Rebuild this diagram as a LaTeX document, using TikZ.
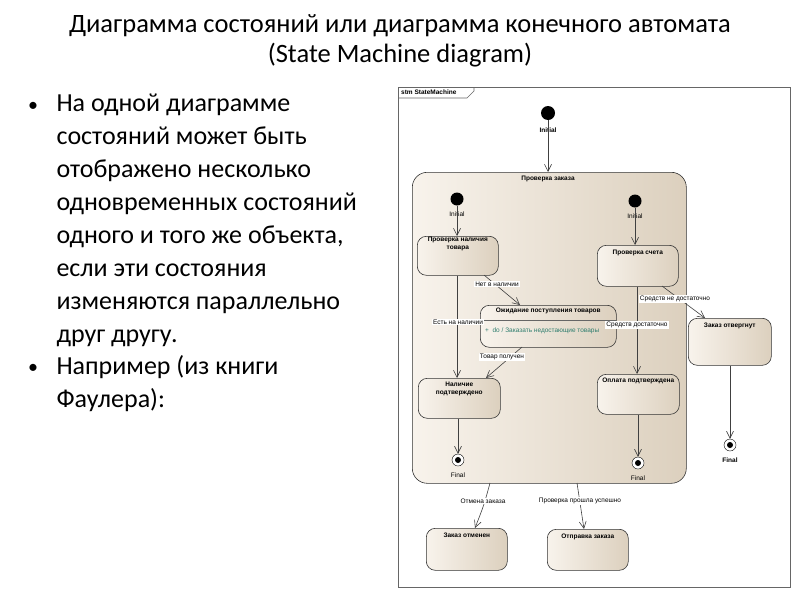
\documentclass[tikz,border=0pt]{standalone}
\usepackage{fontspec}
\setmainfont{Carlito}
\newfontfamily\uml{Liberation Sans}
\usetikzlibrary{arrows.meta}
\definecolor{beigeA}{HTML}{F8F3EC}
\definecolor{beigeB}{HTML}{DCD0BE}
\definecolor{teal}{HTML}{2E7D6E}
\tikzset{x=1pt,y=-1pt,
 st/.style={draw=black!80,line width=0.6pt,rounded corners=9pt,left color=beigeA,right color=beigeB},
 lbl/.style={font=\uml\fontsize{6.5}{7}\selectfont,inner sep=1pt},
 blbl/.style={font=\uml\bfseries\fontsize{6.5}{7.5}\selectfont,align=center,inner sep=1pt},
 tr/.style={draw=black!75,line width=0.6pt,-{Straight Barb[length=7pt,width=7pt]}},
 ini/.style={circle,fill=black,inner sep=0pt},
 fin/.style={circle,draw=black,fill=white,minimum size=12pt,inner sep=0pt},
 dot/.style={circle,fill=black,minimum size=6pt,inner sep=0pt},
 edl/.style={lbl,fill=white}}
\begin{document}
\begin{tikzpicture}
\useasboundingbox (0,0) rectangle (800,600);
\node[font=\fontsize{26.5}{30}\selectfont,align=center] (title) at (400,41) {Диаграмма состояний или диаграмма конечного автомата\\(State Machine diagram)};
\node[font=\fontsize{26}{33}\selectfont,align=left,anchor=north west] (b1) at (53,90) {На одной диаграмме\\состояний может быть\\отображено несколько\\одновременных состояний\\одного и того же объекта,\\если эти состояния\\изменяются параллельно\\друг другу.};
\node[font=\fontsize{26}{33}\selectfont,align=left,anchor=north west] (b2) at (53,352) {Например (из книги\\Фаулера):};
\node[font=\fontsize{20}{20}\selectfont] (d1) at (33,107) {•};
\node[font=\fontsize{20}{20}\selectfont] (d2) at (33,369) {•};
% frame
\draw[black!60,line width=0.7pt] (398,87) rectangle (790,587);
\draw[black!60,line width=0.6pt] (398,98) -- (467,98) -- (474,91) -- (474,87);
\node[blbl,anchor=west] (tab) at (400,92.5) {stm StateMachine};
% composite
\node[st,rounded corners=15pt,minimum width=274pt,minimum height=311pt,anchor=north west] (comp) at (412,172) {};
\node[blbl] (ctitle) at (548,179) {Проверка заказа};
\node[ini,minimum size=14pt] (i0) at (548,113) {};
\node[blbl] (i0l) at (548,130) {Initial};
\node[ini,minimum size=13pt] (i1) at (457,199) {};
\node[lbl] (i1l) at (457,214) {Initial};
\node[ini,minimum size=13pt] (i2) at (635,201) {};
\node[lbl] (i2l) at (635,216) {Initial};
% states
\node[st,minimum width=81pt,minimum height=39pt,anchor=north west] (pn) at (417,236) {};
\node[blbl,anchor=north] at (pn.north) {Проверка наличия\\товара};
\node[st,minimum width=81pt,minimum height=41pt,anchor=north west] (ps) at (597,245) {};
\node[blbl,anchor=north] at ([yshift=-4pt]ps.north) {Проверка счета};
\node[st,minimum width=136pt,minimum height=42pt,anchor=north west] (ow) at (480,305) {};
\node[blbl,anchor=north] at ([yshift=-2pt]ow.north) {Ожидание поступления товаров};
\draw[black!60] (480,320) -- (616,320);
\node[lbl,text=teal,anchor=west] at (484,331) {+\ \ do / Заказать недостающие товары};
\node[st,minimum width=82pt,minimum height=40pt,anchor=north west] (np) at (418,378) {};
\node[blbl,anchor=north] at ([yshift=-3pt]np.north) {Наличие\\подтверждено};
\node[st,minimum width=82pt,minimum height=40pt,anchor=north west] (op) at (597,374) {};
\node[blbl,anchor=north] at ([yshift=-3pt]op.north) {Оплата подтверждена};
\node[st,minimum width=83pt,minimum height=47pt,anchor=north west] (zo) at (688,318) {};
\node[blbl,anchor=north] at ([yshift=-4pt]zo.north) {Заказ отвергнут};
\node[st,minimum width=81pt,minimum height=42pt,anchor=north west] (zc) at (426,528) {};
\node[blbl,anchor=north] at ([yshift=-4pt]zc.north) {Заказ отменен};
\node[st,minimum width=81pt,minimum height=41pt,anchor=north west] (ot) at (547,529) {};
\node[blbl,anchor=north] at ([yshift=-4pt]ot.north) {Отправка заказа};
% finals
\node[fin] (f1) at (458,460) {};
\node[dot] (f1d) at (f1) {};
\node[lbl] at (458,475) {Final};
\node[fin] (f2) at (638,463) {};
\node[dot] (f2d) at (f2) {};
\node[lbl] at (638,478) {Final};
\node[fin] (f3) at (730,445) {};
\node[dot] (f3d) at (f3) {};
\node[blbl] at (730,460) {Final};
% transitions
\draw[tr] (i0) -- (comp.north -| i0);
\draw[tr] (i1) -- (pn.north -| i1);
\draw[tr] (i2) -- (ps.north -| i2);
\draw[tr] (pn.south -| 457,0) -- (np.north -| 457,0);
\draw[tr] (484,275) -- (520,305);
\draw[tr] (522,347) -- (486,378);
\draw[tr] (ps.south -| 637,0) -- (op.north -| 637,0);
\draw[tr] (662,286) -- (705,318);
\draw[tr] (np.south -| f1) -- (f1);
\draw[tr] (op.south -| f2) -- (f2);
\draw[tr] (zo.south -| f3) -- (f3);
\draw[tr] (490,483) .. controls (484,505) .. (475,528);
\draw[tr] (577,483) .. controls (580,505) .. (584,529);
\node[edl] at (458,322) {Есть на наличии};
\node[edl] at (497,284) {Нет в наличии};
\node[edl] at (502,357) {Товар получен};
\node[edl] at (637,325) {Средств достаточно};
\node[edl] at (675,299) {Средств не достаточно};
\node[edl] at (483,501) {Отмена заказа};
\node[edl] at (580,501) {Проверка прошла успешно};
\end{tikzpicture}
\end{document}
